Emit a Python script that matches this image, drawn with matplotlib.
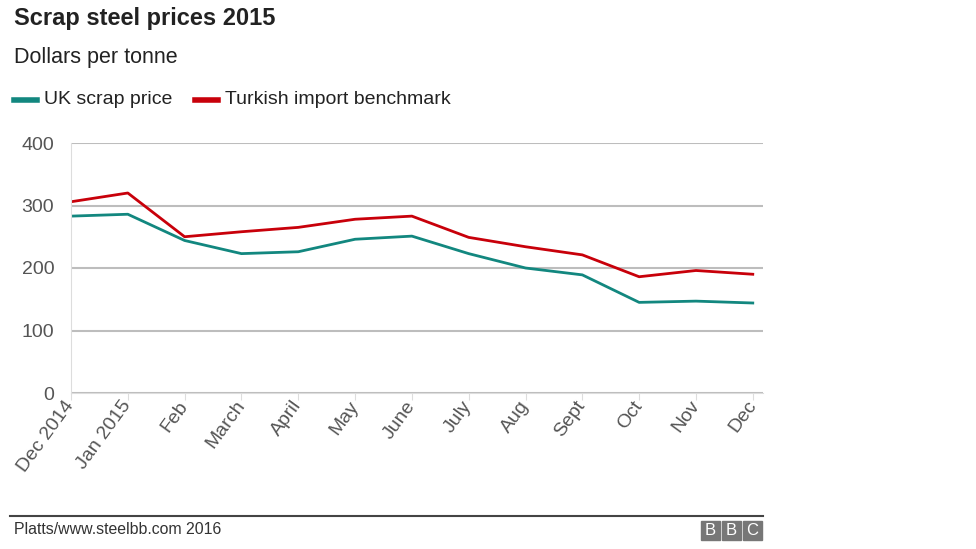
import matplotlib.pyplot as plt
from matplotlib.patches import Rectangle

plt.rcParams['font.family'] = ['Liberation Sans', 'DejaVu Sans']

months = ["Dec 2014", "Jan 2015", "Feb", "March", "April", "May", "June",
          "July", "Aug", "Sept", "Oct", "Nov", "Dec"]
uk_scrap = [283, 286, 244, 223, 226, 246, 251, 223, 200, 189, 145, 147, 144]
turkish = [306, 320, 250, 258, 265, 278, 283, 249, 234, 221, 186, 196, 190]

W, H = 976, 549
fig = plt.figure(figsize=(W / 100, H / 100), dpi=100)
ax = fig.add_axes([71 / W, 1 - 393 / H, (763 - 71) / W, (393 - 143) / H])

x = list(range(len(months)))
ax.plot(x, uk_scrap, color="#12877f", lw=2, solid_joinstyle="round")
ax.plot(x, turkish, color="#c8000a", lw=2, solid_joinstyle="round")

ax.set_xlim(0, 12.18)
ax.set_ylim(0, 400)
ax.set_yticks([0, 100, 200, 300, 400])
ax.set_xticks(x)
ax.set_xticklabels(months, rotation=54, ha="right", va="center",
                   rotation_mode="anchor")
ax.grid(axis="y", color="#bdbdbd", lw=1.5)
ax.set_axisbelow(True)
for s in ["top", "right"]:
    ax.spines[s].set_visible(False)
ax.spines["left"].set_color("#dddddd")
ax.spines["bottom"].set_color("#dddddd")
ax.tick_params(axis="y", length=0, pad=12, labelsize=14, labelcolor="#555555")
ax.tick_params(axis="x", length=5, color="#dddddd", pad=2, labelsize=14,
               labelcolor="#555555")

fig.text(14 / W, 1 - 19 / H, "Scrap steel prices 2015", fontsize=17,
         fontweight="bold", color="#222222", va="center")
fig.text(14 / W, 1 - 58 / H, "Dollars per tonne", fontsize=15.5,
         color="#222222", va="center")

# legend
fig.add_artist(plt.Line2D([14 / W, 37 / W], [1 - 100 / H] * 2, color="#12877f", lw=4))
fig.text(44 / W, 1 - 100 / H, "UK scrap price", fontsize=14, color="#222222",
         va="center")
fig.add_artist(plt.Line2D([195 / W, 218 / W], [1 - 100 / H] * 2, color="#c8000a", lw=4))
fig.text(225 / W, 1 - 100 / H, "Turkish import benchmark", fontsize=14,
         color="#222222", va="center")

# footer
fig.add_artist(plt.Line2D([10 / W, 763 / W], [1 - 516 / H] * 2, color="#444444", lw=1.5))
fig.text(14 / W, 1 - 530 / H, "Platts/www.steelbb.com 2016", fontsize=11.4,
         color="#333333", va="center")
for i, letter in enumerate("BBC"):
    x0 = 701 + i * 21
    fig.add_artist(Rectangle((x0 / W, 1 - 540 / H), 19 / W, 19 / H,
                             color="#777777", transform=fig.transFigure))
    fig.text((x0 + 9.5) / W, 1 - 530.5 / H, letter, fontsize=12, color="white",
             ha="center", va="center")

fig.savefig("out.png", dpi=100)
